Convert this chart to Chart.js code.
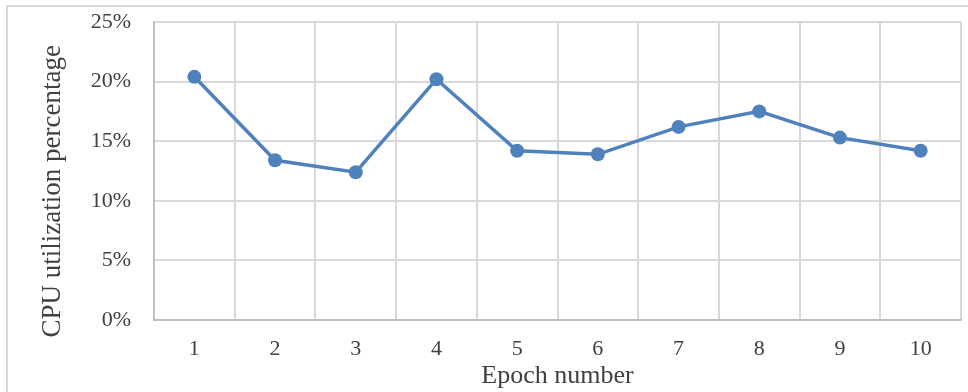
<!DOCTYPE html>
<html>
<head>
<meta charset="utf-8">
<script src="https://cdn.jsdelivr.net/npm/chart.js@4/dist/chart.umd.min.js"></script>
<style>
  html, body { margin: 0; padding: 0; background: #fff; overflow: hidden; }
  #frame {
    position: absolute; left: 6px; top: 5px; width: 980px; height: 400px;
    border: 2px solid #d9d9d9; box-sizing: border-box;
  }
  #wrap { position: absolute; left: 0; top: 0; width: 968px; height: 392px; }
</style>
</head>
<body>
<div id="frame"></div>
<div id="wrap"><canvas id="myChart"></canvas></div>
<script>
// epochs on the x axis
const epochs = ["1", "2", "3", "4", "5", "6", "7", "8", "9", "10"];

// CPU utilization per epoch, in percent
const cpuUsage = [20.4, 13.4, 12.4, 20.2, 14.2, 13.9, 16.2, 17.5, 15.3, 14.2];

// y axis ticks
const yTicks = [0, 5, 10, 15, 20, 25];

const ctx = document.getElementById("myChart");

new Chart(ctx, {
  type: "line",
  data: {
    labels: epochs,
    datasets: [
      {
        label: "CPU utilization",
        data: cpuUsage,
        borderColor: "#4f81bd",
        backgroundColor: "#4f81bd",
        borderWidth: 3.5,
        pointRadius: 7,
        pointHoverRadius: 7,
        pointBorderWidth: 0,
        tension: 0,
      },
    ],
  },
  options: {
    responsive: true,
    maintainAspectRatio: false,
    animation: false,
    layout: { padding: { left: 0, top: 22, right: 6, bottom: 0 } },
    plugins: {
      legend: { display: false },
      tooltip: { enabled: false },
    },
    scales: {
      x: {
        offset: true,
        grid: { offset: true, color: "#d9d9d9", lineWidth: 2, drawTicks: false },
        border: { color: "#bfbfbf", width: 2 },
        ticks: {
          padding: 16,
          color: "#404040",
          font: { family: "Liberation Serif", size: 22 },
        },
        title: {
          display: true,
          text: "Epoch number",
          color: "#404040",
          font: { family: "Liberation Serif", size: 26 },
          padding: { top: 0, bottom: 0 },
        },
        afterFit: (scale) => {
          scale.height = 72;
          scale.paddingLeft = 0;
          scale.paddingRight = 0;
        },
      },
      y: {
        min: 0,
        max: 25,
        afterBuildTicks: (scale) => {
          scale.ticks = yTicks.map((v) => ({ value: v }));
        },
        grid: { color: "#d9d9d9", lineWidth: 2, drawTicks: false },
        border: { color: "#bfbfbf", width: 2 },
        ticks: {
          padding: 23,
          color: "#404040",
          font: { family: "Liberation Serif", size: 22 },
          callback: (v) => v + "%",
        },
        title: {
          display: true,
          // trailing spaces push the title a little down, like the original
          text: "CPU utilization percentage      ",
          color: "#404040",
          font: { family: "Liberation Serif", size: 27 },
          padding: { top: 37, bottom: 0 },
        },
        afterFit: (scale) => {
          scale.width = 154;
          scale.paddingTop = 0;
          scale.paddingBottom = 0;
        },
      },
    },
  },
});
</script>
</body>
</html>
